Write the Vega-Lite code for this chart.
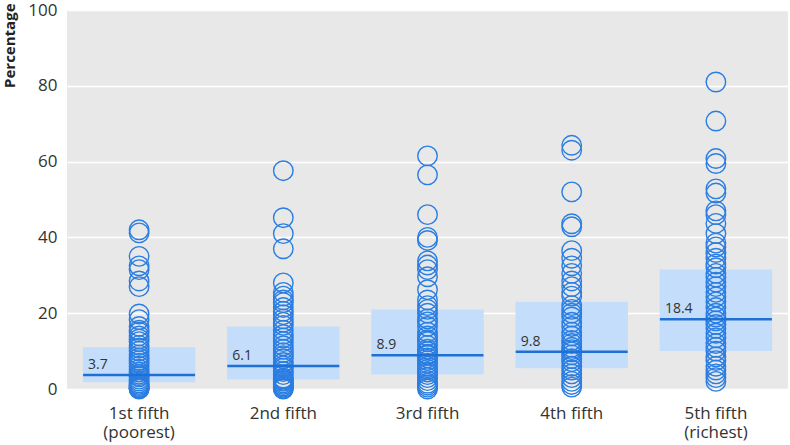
{
  "$schema": "https://vega.github.io/schema/vega-lite/v6.json",
  "autosize": {"type": "none"},
  "padding": {"left": 67, "top": 10, "right": 2, "bottom": 56},
  "width": 721,
  "height": 379,
  "background": "white",
  "datasets": {
    "points": [
      {"group": "1st fifth (poorest)", "value": 42}, {"group": "1st fifth (poorest)", "value": 41.2},
      {"group": "1st fifth (poorest)", "value": 35}, {"group": "1st fifth (poorest)", "value": 32.5},
      {"group": "1st fifth (poorest)", "value": 31.5}, {"group": "1st fifth (poorest)", "value": 28.5},
      {"group": "1st fifth (poorest)", "value": 27}, {"group": "1st fifth (poorest)", "value": 19.8},
      {"group": "1st fifth (poorest)", "value": 18.3}, {"group": "1st fifth (poorest)", "value": 16.5},
      {"group": "1st fifth (poorest)", "value": 15.5}, {"group": "1st fifth (poorest)", "value": 15},
      {"group": "1st fifth (poorest)", "value": 14}, {"group": "1st fifth (poorest)", "value": 13.2},
      {"group": "1st fifth (poorest)", "value": 12.5}, {"group": "1st fifth (poorest)", "value": 11.5},
      {"group": "1st fifth (poorest)", "value": 10.8}, {"group": "1st fifth (poorest)", "value": 10},
      {"group": "1st fifth (poorest)", "value": 9}, {"group": "1st fifth (poorest)", "value": 8.2},
      {"group": "1st fifth (poorest)", "value": 7.5}, {"group": "1st fifth (poorest)", "value": 6.8},
      {"group": "1st fifth (poorest)", "value": 6}, {"group": "1st fifth (poorest)", "value": 5.2},
      {"group": "1st fifth (poorest)", "value": 4.5}, {"group": "1st fifth (poorest)", "value": 3.9},
      {"group": "1st fifth (poorest)", "value": 3.5}, {"group": "1st fifth (poorest)", "value": 3.2},
      {"group": "1st fifth (poorest)", "value": 2.6}, {"group": "1st fifth (poorest)", "value": 2.1},
      {"group": "1st fifth (poorest)", "value": 1.6}, {"group": "1st fifth (poorest)", "value": 1.2},
      {"group": "1st fifth (poorest)", "value": 0.9}, {"group": "1st fifth (poorest)", "value": 0.6},
      {"group": "1st fifth (poorest)", "value": 0.4}, {"group": "1st fifth (poorest)", "value": 0.2},
      {"group": "1st fifth (poorest)", "value": 0.1}, {"group": "1st fifth (poorest)", "value": 0},

      {"group": "2nd fifth", "value": 57.6}, {"group": "2nd fifth", "value": 45.2},
      {"group": "2nd fifth", "value": 41}, {"group": "2nd fifth", "value": 37},
      {"group": "2nd fifth", "value": 28}, {"group": "2nd fifth", "value": 25.5},
      {"group": "2nd fifth", "value": 24.5}, {"group": "2nd fifth", "value": 23.5},
      {"group": "2nd fifth", "value": 22.8}, {"group": "2nd fifth", "value": 21.5},
      {"group": "2nd fifth", "value": 20.5}, {"group": "2nd fifth", "value": 19.6},
      {"group": "2nd fifth", "value": 18.5}, {"group": "2nd fifth", "value": 17.6},
      {"group": "2nd fifth", "value": 16.8}, {"group": "2nd fifth", "value": 15.5},
      {"group": "2nd fifth", "value": 14.4}, {"group": "2nd fifth", "value": 13.5},
      {"group": "2nd fifth", "value": 12.5}, {"group": "2nd fifth", "value": 11.4},
      {"group": "2nd fifth", "value": 10.5}, {"group": "2nd fifth", "value": 9.6},
      {"group": "2nd fifth", "value": 8.8}, {"group": "2nd fifth", "value": 8},
      {"group": "2nd fifth", "value": 7}, {"group": "2nd fifth", "value": 6.1},
      {"group": "2nd fifth", "value": 5.5}, {"group": "2nd fifth", "value": 4.6},
      {"group": "2nd fifth", "value": 3.8}, {"group": "2nd fifth", "value": 2.9},
      {"group": "2nd fifth", "value": 2.6}, {"group": "2nd fifth", "value": 2.3},
      {"group": "2nd fifth", "value": 2}, {"group": "2nd fifth", "value": 1.6},
      {"group": "2nd fifth", "value": 1.2}, {"group": "2nd fifth", "value": 0.8},
      {"group": "2nd fifth", "value": 0.5}, {"group": "2nd fifth", "value": 0.2},
      {"group": "2nd fifth", "value": 0},

      {"group": "3rd fifth", "value": 61.5}, {"group": "3rd fifth", "value": 56.5},
      {"group": "3rd fifth", "value": 46}, {"group": "3rd fifth", "value": 40},
      {"group": "3rd fifth", "value": 39.2}, {"group": "3rd fifth", "value": 33.8},
      {"group": "3rd fifth", "value": 32.7}, {"group": "3rd fifth", "value": 31.5},
      {"group": "3rd fifth", "value": 29.6}, {"group": "3rd fifth", "value": 26.2},
      {"group": "3rd fifth", "value": 23.5}, {"group": "3rd fifth", "value": 22},
      {"group": "3rd fifth", "value": 21}, {"group": "3rd fifth", "value": 20},
      {"group": "3rd fifth", "value": 18.5}, {"group": "3rd fifth", "value": 17.7},
      {"group": "3rd fifth", "value": 16.5}, {"group": "3rd fifth", "value": 15},
      {"group": "3rd fifth", "value": 14}, {"group": "3rd fifth", "value": 13},
      {"group": "3rd fifth", "value": 12.5}, {"group": "3rd fifth", "value": 11.5},
      {"group": "3rd fifth", "value": 10.5}, {"group": "3rd fifth", "value": 9.9},
      {"group": "3rd fifth", "value": 9.2}, {"group": "3rd fifth", "value": 8.9},
      {"group": "3rd fifth", "value": 8.2}, {"group": "3rd fifth", "value": 7.5},
      {"group": "3rd fifth", "value": 6.8}, {"group": "3rd fifth", "value": 6},
      {"group": "3rd fifth", "value": 5.2}, {"group": "3rd fifth", "value": 4.5},
      {"group": "3rd fifth", "value": 3.8}, {"group": "3rd fifth", "value": 3},
      {"group": "3rd fifth", "value": 2.2}, {"group": "3rd fifth", "value": 1.5},
      {"group": "3rd fifth", "value": 1}, {"group": "3rd fifth", "value": 0.5},
      {"group": "3rd fifth", "value": 0},

      {"group": "4th fifth", "value": 64.3}, {"group": "4th fifth", "value": 63},
      {"group": "4th fifth", "value": 52}, {"group": "4th fifth", "value": 43.6},
      {"group": "4th fifth", "value": 42.8}, {"group": "4th fifth", "value": 36.5},
      {"group": "4th fifth", "value": 34.5}, {"group": "4th fifth", "value": 32.5},
      {"group": "4th fifth", "value": 30.5}, {"group": "4th fifth", "value": 28.5},
      {"group": "4th fifth", "value": 27}, {"group": "4th fifth", "value": 25.5},
      {"group": "4th fifth", "value": 24.5}, {"group": "4th fifth", "value": 22},
      {"group": "4th fifth", "value": 21}, {"group": "4th fifth", "value": 20},
      {"group": "4th fifth", "value": 19}, {"group": "4th fifth", "value": 17.6},
      {"group": "4th fifth", "value": 16.5}, {"group": "4th fifth", "value": 15},
      {"group": "4th fifth", "value": 14}, {"group": "4th fifth", "value": 12.8},
      {"group": "4th fifth", "value": 12}, {"group": "4th fifth", "value": 11},
      {"group": "4th fifth", "value": 10.4}, {"group": "4th fifth", "value": 9.8},
      {"group": "4th fifth", "value": 9}, {"group": "4th fifth", "value": 8},
      {"group": "4th fifth", "value": 7.2}, {"group": "4th fifth", "value": 6},
      {"group": "4th fifth", "value": 5}, {"group": "4th fifth", "value": 4},
      {"group": "4th fifth", "value": 3}, {"group": "4th fifth", "value": 2},
      {"group": "4th fifth", "value": 1.2}, {"group": "4th fifth", "value": 0.5},

      {"group": "5th fifth (richest)", "value": 81}, {"group": "5th fifth (richest)", "value": 70.7},
      {"group": "5th fifth (richest)", "value": 60.8}, {"group": "5th fifth (richest)", "value": 59.5},
      {"group": "5th fifth (richest)", "value": 52.8}, {"group": "5th fifth (richest)", "value": 51.7},
      {"group": "5th fifth (richest)", "value": 47}, {"group": "5th fifth (richest)", "value": 46},
      {"group": "5th fifth (richest)", "value": 43.7}, {"group": "5th fifth (richest)", "value": 41},
      {"group": "5th fifth (richest)", "value": 38.5}, {"group": "5th fifth (richest)", "value": 37.5},
      {"group": "5th fifth (richest)", "value": 36}, {"group": "5th fifth (richest)", "value": 34.5},
      {"group": "5th fifth (richest)", "value": 33}, {"group": "5th fifth (richest)", "value": 32},
      {"group": "5th fifth (richest)", "value": 30.5}, {"group": "5th fifth (richest)", "value": 29.5},
      {"group": "5th fifth (richest)", "value": 28.2}, {"group": "5th fifth (richest)", "value": 27},
      {"group": "5th fifth (richest)", "value": 25.5}, {"group": "5th fifth (richest)", "value": 24.3},
      {"group": "5th fifth (richest)", "value": 23}, {"group": "5th fifth (richest)", "value": 21.5},
      {"group": "5th fifth (richest)", "value": 20}, {"group": "5th fifth (richest)", "value": 19},
      {"group": "5th fifth (richest)", "value": 18}, {"group": "5th fifth (richest)", "value": 17},
      {"group": "5th fifth (richest)", "value": 16}, {"group": "5th fifth (richest)", "value": 14.7},
      {"group": "5th fifth (richest)", "value": 13.5}, {"group": "5th fifth (richest)", "value": 12},
      {"group": "5th fifth (richest)", "value": 11}, {"group": "5th fifth (richest)", "value": 10},
      {"group": "5th fifth (richest)", "value": 8.5}, {"group": "5th fifth (richest)", "value": 7.5},
      {"group": "5th fifth (richest)", "value": 6}, {"group": "5th fifth (richest)", "value": 5},
      {"group": "5th fifth (richest)", "value": 4}, {"group": "5th fifth (richest)", "value": 3},
      {"group": "5th fifth (richest)", "value": 2}
    ],
    "summary": [
      {"group": "1st fifth (poorest)", "q1": 1.8, "q3": 11, "median": 3.7},
      {"group": "2nd fifth", "q1": 2.5, "q3": 16.5, "median": 6.1},
      {"group": "3rd fifth", "q1": 3.8, "q3": 21, "median": 8.9},
      {"group": "4th fifth", "q1": 5.5, "q3": 23, "median": 9.8},
      {"group": "5th fifth (richest)", "q1": 10, "q3": 31.5, "median": 18.4}
    ]
  },
  "encoding": {
    "x": {
      "field": "group",
      "type": "nominal",
      "sort": null,
      "scale": {"paddingInner": 0.22, "paddingOuter": 0.11},
      "axis": {
        "title": null,
        "labelAngle": 0,
        "ticks": false,
        "domain": false,
        "labelPadding": 16,
        "labelFontSize": 17,
        "labelLineHeight": 19,
        "labelColor": "#333333",
        "labelExpr": "indexof(datum.value, ' (') > 0 ? [substring(datum.value, 0, indexof(datum.value, ' (')), substring(datum.value, indexof(datum.value, ' (') + 1)] : datum.value"
      }
    }
  },
  "layer": [
    {
      "data": {"name": "summary"},
      "mark": {"type": "bar", "color": "#c4ddfa"},
      "encoding": {
        "y": {
          "field": "q1",
          "type": "quantitative",
          "scale": {"domain": [0, 100]},
          "axis": {
            "title": "Percentage",
            "values": [0, 20, 40, 60, 80, 100],
            "ticks": false,
            "domain": false,
            "grid": true,
            "gridColor": "white",
            "gridWidth": 1.5,
            "labelFontSize": 17,
            "labelColor": "#333333",
            "labelPadding": 10,
            "titleFontSize": 15,
            "titleFontWeight": "bold",
            "titleColor": "#222222",
            "titleAngle": -90,
            "titleAlign": "right",
            "titleBaseline": "top",
            "titleX": -65,
            "titleY": -7
          }
        },
        "y2": {"field": "q3"}
      }
    },
    {
      "data": {"name": "points"},
      "mark": {"type": "point", "shape": "circle", "filled": false, "size": 380, "strokeWidth": 1.4, "color": "#2a7de1", "opacity": 1},
      "encoding": {
        "y": {"field": "value", "type": "quantitative"}
      }
    },
    {
      "data": {"name": "summary"},
      "mark": {"type": "tick", "orient": "horizontal", "size": 112, "thickness": 2.5, "color": "#1f70d4", "opacity": 1},
      "encoding": {
        "y": {"field": "median", "type": "quantitative"}
      }
    },
    {
      "data": {"name": "summary"},
      "mark": {"type": "text", "align": "left", "baseline": "bottom", "dx": -51, "dy": -3, "fontSize": 14, "color": "#333333"},
      "encoding": {
        "y": {"field": "median", "type": "quantitative"},
        "text": {"field": "median", "type": "quantitative", "format": ".1f"}
      }
    }
  ],
  "config": {
    "font": "Open Sans",
    "view": {"fill": "#e8e8e8", "stroke": null}
  }
}
